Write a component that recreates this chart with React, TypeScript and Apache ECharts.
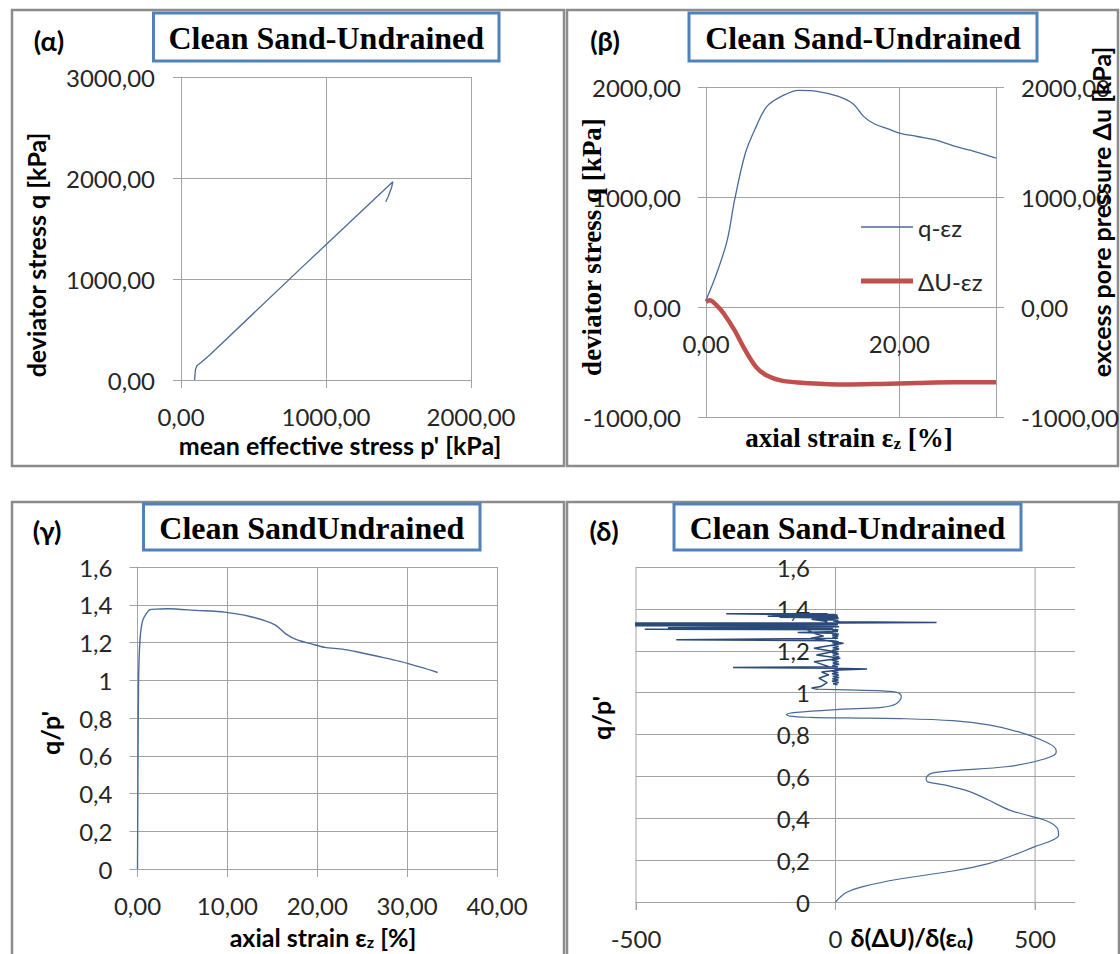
import React, { useEffect, useRef } from 'react';
import * as echarts from 'echarts';

// ---------- data ----------
// (α) stress path q vs p'
const alphaP = [94, 96, 100, 110, 140, 200, 830, 1461, 1452, 1430, 1412];
const alphaQ = [0, 50, 105, 140, 175, 250, 1110, 1963, 1905, 1820, 1765];

// (β) q - εz and ΔU - εz
const betaStrainQ = [0, 1.1, 2.2, 2.96, 4.07, 5.2, 6.3, 7.8, 9.6, 11.5, 13.7, 15.2, 16.3, 17.4, 18.9, 20, 21.85, 23.7, 25.6, 27.4, 30];
const betaQ = [61, 304, 608, 973, 1398, 1642, 1824, 1915, 1970, 1961, 1915, 1848, 1733, 1666, 1617, 1581, 1550, 1520, 1465, 1423, 1353];
const betaStrainU = [0, 0.37, 1.1, 1.85, 2.96, 4.07, 5.2, 6.3, 7.8, 10.7, 14.4, 18.1, 21.9, 25.6, 30];
const betaU = [46, 61, 15, -61, -213, -395, -547, -623, -669, -693, -705, -699, -690, -684, -684];

// (γ) q/p' - εz
const gammaStrain = [0, 0.05, 0.12, 0.28, 0.6, 1.4, 2.2, 3.4, 6.55, 9.7, 12.5, 15.3, 16.5, 17.7, 19.7, 20.85, 22.8, 24.4, 26.8, 29.2, 31.6, 33.4];
const gammaRatio = [0, 0.5, 1.0, 1.215, 1.32, 1.374, 1.377, 1.379, 1.37, 1.361, 1.338, 1.294, 1.246, 1.215, 1.188, 1.174, 1.165, 1.151, 1.126, 1.1, 1.068, 1.041];

// (δ) δ(ΔU)/δ(εα) vs q/p' : smooth lower branch
const deltaLowX = [0, 27, 71, 160, 294, 383, 445, 498, 543, 559, 556, 534, 489, 436, 383, 338, 276, 231, 227, 240, 294, 427, 498, 543, 553, 547, 516, 463, 383, 294, 160, 27, -62, -116, -123, -98, 9, 116, 151, 165, 156, 116, 27, -44];
const deltaLowY = [0, 0.045, 0.075, 0.11, 0.148, 0.183, 0.223, 0.263, 0.295, 0.319, 0.351, 0.383, 0.41, 0.439, 0.487, 0.526, 0.558, 0.574, 0.59, 0.614, 0.627, 0.646, 0.67, 0.697, 0.718, 0.742, 0.774, 0.81, 0.846, 0.866, 0.876, 0.879, 0.882, 0.888, 0.896, 0.906, 0.92, 0.93, 0.946, 0.981, 1.0, 1.008, 1.013, 1.016];
// noisy upper branch (rise to the peak, then descent)
const deltaNoisyX = [-44, -60, -37, -21, -42, -17, -35, 8, -54, 12, -48, -4, -54, 20, -62, -30, -54, -71, -40, -21, -60, -4, -137, -10, -274, -20, -160, -5,
  5, -8, -170, 6, -140, 8, -9, -60, 7, -6, 10, 253, 5, -560, -8, -530, 6, -560, -7, 9, -420, -6, -478, 7, -8, 6, -95, -5, 8, -9, 7, -8, 6, -399, -7, 8, -8, 7, -9, 8, -7, 9, -8, 7, -9, 8, -7, 9, -8, 7, -9, 8, -7, 9, -8, 6, -257, -5, 79, 8, -8, 7, -9, 8, -7, 9, -8, 7, -9, 8, -6, 5];
const deltaNoisyY = [1.016, 1.022, 1.029, 1.048, 1.069, 1.085, 1.098, 1.108, 1.148, 1.164, 1.18, 1.196, 1.212, 1.236, 1.26, 1.27, 1.284, 1.3, 1.315, 1.34, 1.35, 1.364, 1.367, 1.37, 1.377, 1.375, 1.372, 1.373,
  1.37, 1.366, 1.365, 1.362, 1.36, 1.356, 1.352, 1.35, 1.346, 1.342, 1.339, 1.335, 1.333, 1.332, 1.33, 1.327, 1.325, 1.32, 1.318, 1.315, 1.31, 1.307, 1.303, 1.3, 1.296, 1.292, 1.287, 1.283, 1.279, 1.275, 1.27, 1.265, 1.26, 1.252, 1.248, 1.243, 1.238, 1.232, 1.226, 1.22, 1.214, 1.208, 1.202, 1.196, 1.19, 1.184, 1.178, 1.172, 1.166, 1.16, 1.154, 1.148, 1.142, 1.136, 1.13, 1.124, 1.12, 1.117, 1.113, 1.108, 1.102, 1.096, 1.09, 1.084, 1.078, 1.072, 1.066, 1.06, 1.054, 1.048, 1.042, 1.038];

// axis ranges [min, max, interval]
const alphaXRange = [0, 2000, 1000];
const alphaYRange = [0, 3000, 1000];
const betaXRange = [0, 30, 20];
const betaYRange = [-1000, 2000, 1000];
const gammaXRange = [0, 40, 10];
const ratioRange = [0, 1.6, 0.2];
const deltaXRange = [-500, 600, 500];
const deltaXTicks = [-500, 0, 500];

const panelTitles = ['Clean Sand-Undrained', 'Clean Sand-Undrained', 'Clean SandUndrained', 'Clean Sand-Undrained'];
const panelTags = ['(α)', '(β)', '(γ)', '(δ)'];
const legendNames = ['q-εz', 'ΔU-εz'];

// ---------- styles ----------
const SANS = 'Lato';
const SERIF = '"Liberation Serif", serif';
const GRID = '#a3a3a3';
const TXT = '#262626';
const BLUE = '#4a6a98';
const DBLUE = '#2a4b7a';
const RED = '#c0504d';
const FS = 24;

const zip = (a: number[], b: number[]) => a.map((v, i) => [v, b[i]]);
const fmt2 = (v: number) => v.toFixed(2).replace('.', ',');
const fmt1 = (v: number) => String(+v.toFixed(1)).replace('.', ',');

function valAxis(gridIndex: number, range: number[], fmt: (v: number) => string, margin: number, extra: any = {}) {
  const base: any = {
    type: 'value',
    gridIndex,
    min: range[0],
    max: range[1],
    interval: range[2],
    axisLine: { show: true, onZero: false, lineStyle: { color: GRID, width: 1 } },
    axisTick: { show: true, inside: false, length: 8, lineStyle: { color: GRID } },
    splitLine: { show: true, lineStyle: { color: GRID, width: 1 } },
    axisLabel: { formatter: fmt, fontSize: FS, fontFamily: SANS, color: TXT, margin },
  };
  Object.keys(extra).forEach((k) => {
    base[k] = typeof extra[k] === 'object' && !Array.isArray(extra[k]) && base[k] ? { ...base[k], ...extra[k] } : extra[k];
  });
  return base;
}

function panelGraphics() {
  const g: any[] = [];
  const panels = [
    [12, 10, 552, 456],
    [567, 10, 551, 456],
    [12, 502, 552, 470],
    [567, 502, 552, 470],
  ];
  panels.forEach((p) => {
    g.push({ type: 'rect', shape: { x: p[0], y: p[1], width: p[2], height: p[3] }, style: { fill: 'none', stroke: '#8c8c8c', lineWidth: 2.5 }, silent: true });
  });
  const boxes = [
    [153.5, 13, 345.5, 48],
    [689, 13, 348, 48],
    [143.5, 504, 336.5, 46],
    [674, 504, 347, 46],
  ];
  boxes.forEach((b, i) => {
    g.push({ type: 'rect', shape: { x: b[0], y: b[1], width: b[2], height: b[3] }, style: { fill: '#fff', stroke: '#4f81bd', lineWidth: 3 }, z: 10 });
    g.push({
      type: 'text', x: b[0] + b[2] / 2, y: b[1] + b[3] / 2 + 1, z: 11,
      style: { text: panelTitles[i], fontFamily: SERIF, fontWeight: 'bold', fontSize: 32, fill: '#000', textAlign: 'center', textVerticalAlign: 'middle' },
    });
  });
  const tags = [[49, 40], [605, 40], [47, 530], [604, 530]];
  tags.forEach((t, i) => {
    g.push({ type: 'text', x: t[0], y: t[1], style: { text: panelTags[i], fontFamily: SANS, fontWeight: 'bold', fontSize: 27, fill: '#000', textAlign: 'center', textVerticalAlign: 'middle' } });
  });
  const name = (text: string, x: number, y: number, rot: boolean, family: string, size: number, rich?: any) => ({
    type: 'text', x, y, rotation: rot ? Math.PI / 2 : 0, z: 5,
    style: { text, fontFamily: family, fontWeight: 'bold', fontSize: size, fill: '#000', textAlign: 'center', textVerticalAlign: 'middle', rich },
  });
  const subSans = { s: { fontFamily: SANS, fontWeight: 'bold', fontSize: 16, verticalAlign: 'bottom' } };
  const subSerif = { s: { fontFamily: SERIF, fontWeight: 'bold', fontSize: 17, verticalAlign: 'bottom' } };
  g.push(name('deviator stress q [kPa]', 36, 255, true, SANS, 25));
  g.push(name("mean effective stress p' [kPa]", 340, 445, false, SANS, 25));
  g.push(name('deviator stress q [kPa]', 592, 247, true, SERIF, 27));
  g.push(name('excess pore pressure Δu [kPa]', 1101, 212, true, SANS, 25));
  g.push(name('axial strain ε{s|z} [%]', 849, 438, false, SERIF, 27, subSerif));
  g.push(name("q/p'", 50, 733, true, SANS, 25));
  g.push(name('axial strain ε{s|z} [%]', 323, 937, false, SANS, 25, subSans));
  g.push(name("q/p'", 601, 718, true, SANS, 25));
  g.push(name('δ(ΔU)/δ(ε{s|α})', 912, 937, false, SANS, 25, { s: { fontFamily: SANS, fontWeight: 'bold', fontSize: 16, verticalAlign: 'bottom' } }));
  return g;
}

export default function App() {
  const ref = useRef<HTMLDivElement>(null);
  useEffect(() => {
    document.body.style.margin = '0';
    document.body.style.background = '#fff';
    const chart = echarts.init(ref.current!, null, { renderer: 'svg' });
    const option: any = {
      animation: false,
      backgroundColor: '#fff',
      textStyle: { fontFamily: SANS },
      grid: [
        { left: 181, top: 77, width: 290, height: 303, outerBoundsMode: 'none' },
        { left: 706, top: 87, width: 290, height: 330, outerBoundsMode: 'none' },
        { left: 137.5, top: 567, width: 359.5, height: 302, outerBoundsMode: 'none' },
        { left: 636, top: 567, width: 439, height: 335, outerBoundsMode: 'none' },
      ],
      xAxis: [
        valAxis(0, alphaXRange, fmt2, 24),
        // axis drawn at q = 0 (two thirds down the plot): offset moves it up
        valAxis(1, betaXRange, fmt2, 24, { offset: -110, axisLabel: { showMaxLabel: false } }),
        valAxis(2, gammaXRange, fmt2, 24),
        valAxis(3, deltaXRange, (v: number) => String(v), 24, {
          splitLine: { show: false },
          axisTick: { customValues: deltaXTicks },
          axisLabel: { customValues: deltaXTicks },
        }),
      ],
      yAxis: [
        valAxis(0, alphaYRange, fmt2, 26),
        valAxis(1, betaYRange, fmt2, 25, { position: 'left' }),
        valAxis(1, betaYRange, fmt2, 25, { position: 'right', splitLine: { show: false } }),
        valAxis(2, ratioRange, fmt1, 25),
        // axis drawn at x = 0 of the δ plot
        valAxis(3, ratioRange, fmt1, 25, { offset: -199, axisTick: { show: false } }),
      ],
      legend: {
        data: [
          { name: legendNames[0], icon: 'path://M0,0H52V1.3H0Z' },
          { name: legendNames[1], icon: 'path://M0,0H52V5H0Z' },
        ],
        orient: 'vertical',
        left: 856,
        top: 210,
        itemWidth: 52,
        itemHeight: 14,
        itemGap: 30,
        textStyle: { fontSize: FS, fontFamily: SANS, color: TXT },
      },
      series: [
        { type: 'line', xAxisIndex: 0, yAxisIndex: 0, data: zip(alphaP, alphaQ), symbol: 'none', showSymbol: false, lineStyle: { color: BLUE, width: 1.3 }, itemStyle: { color: BLUE } },
        { name: legendNames[0], type: 'line', xAxisIndex: 1, yAxisIndex: 1, data: zip(betaStrainQ, betaQ), symbol: 'none', showSymbol: false, smooth: 0.35, lineStyle: { color: BLUE, width: 1.3 }, itemStyle: { color: BLUE } },
        { name: legendNames[1], type: 'line', xAxisIndex: 1, yAxisIndex: 2, data: zip(betaStrainU, betaU), symbol: 'none', showSymbol: false, smooth: 0.35, lineStyle: { color: RED, width: 4.5 }, itemStyle: { color: RED } },
        { type: 'line', xAxisIndex: 2, yAxisIndex: 3, data: zip(gammaStrain, gammaRatio), symbol: 'none', showSymbol: false, smooth: 0.25, lineStyle: { color: BLUE, width: 1.4 }, itemStyle: { color: BLUE } },
        { type: 'line', xAxisIndex: 3, yAxisIndex: 4, data: zip(deltaLowX, deltaLowY), symbol: 'none', showSymbol: false, smooth: 0.35, lineStyle: { color: BLUE, width: 1.2 }, itemStyle: { color: BLUE } },
        { type: 'line', xAxisIndex: 3, yAxisIndex: 4, data: zip(deltaNoisyX, deltaNoisyY), symbol: 'none', showSymbol: false, lineStyle: { color: DBLUE, width: 1.5 }, itemStyle: { color: DBLUE } },
      ],
      graphic: panelGraphics(),
    };
    chart.setOption(option);

    // vertical gridlines of the δ panel at its labelled ticks, placed through the δ axes' own scales
    const finder = { xAxisIndex: 3, yAxisIndex: 4 };
    const gridLines = deltaXTicks.filter((v) => v !== 0).map((v) => {
      const p0 = chart.convertToPixel(finder, [v, ratioRange[0]]) as number[];
      const p1 = chart.convertToPixel(finder, [v, ratioRange[1]]) as number[];
      return {
        type: 'line', z: 1, silent: true,
        shape: { x1: p0[0], y1: p0[1] + 8, x2: p1[0], y2: p1[1] },
        style: { stroke: GRID, lineWidth: 1 },
      };
    });
    chart.setOption({ graphic: [...panelGraphics(), ...gridLines] });
    return () => chart.dispose();
  }, []);
  return <div ref={ref} style={{ position: 'absolute', left: 0, top: 0, width: 1120, height: 954 }} />;
}
